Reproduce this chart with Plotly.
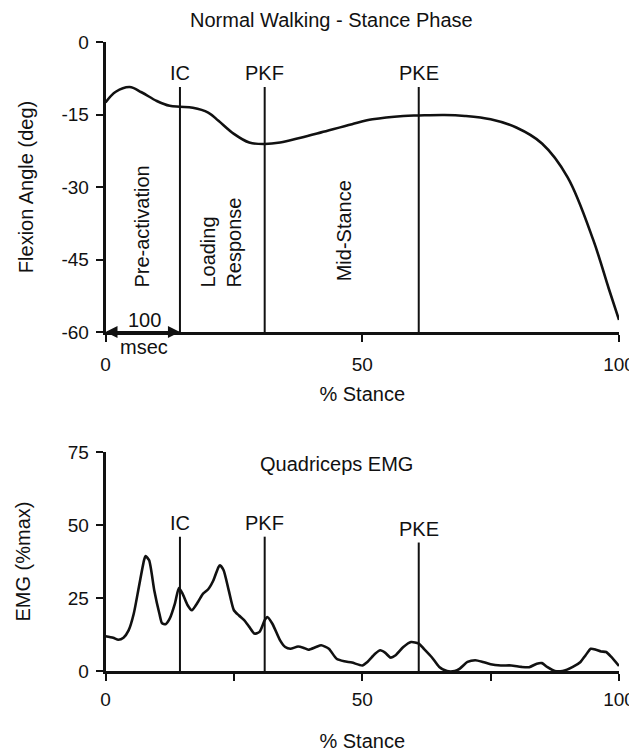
import plotly.graph_objects as go

# ---- data ----
stance_x = [0, 2, 4.7, 7, 10, 12.5, 14.5, 17, 20, 22, 25, 28, 31, 34, 38, 42, 48, 52, 58, 61,
            66, 70, 75, 80, 85, 90, 95, 98, 100]
flexion = [-12.5, -10.3, -9.3, -10.4, -12.2, -13.2, -13.4, -13.6, -14.6, -16.3, -19.0, -20.8,
           -21.1, -20.8, -19.8, -18.7, -17.0, -16.0, -15.3, -15.2, -15.1, -15.3, -16.0, -17.7,
           -21.0, -28.0, -41.0, -51.0, -57.5]

emg_x = [0, 1.5, 2.5, 3.5, 4.5, 5.5, 6.5, 7.5, 7.8, 8.5, 9.5, 10.5, 11, 11.7, 12.5, 13.5, 14.3,
         15, 16, 16.8, 18, 19, 20, 21, 22, 22.3, 23, 24, 25, 26, 27, 28, 29, 30, 31, 31.5, 32.5,
         34, 35, 36, 37.5, 38.5, 39.5, 41, 42, 43.5, 45, 46.5, 48, 50, 51, 52.5, 53.5, 54.5, 55.5,
         56.5, 58, 59.5, 61, 62, 63.5, 65, 66.5, 68, 69, 70.5, 72, 73.5, 75, 77, 79, 81, 82.5,
         84, 85, 86, 87.5, 89, 91, 92.5, 93.5, 94.5, 95.5, 96.5, 97.5, 98.5, 100]
emg = [11.9, 11.4, 10.7, 11.4, 13.9, 19.6, 28.8, 37.9, 39.4, 37.9, 27.6, 19.6, 16.4, 16.0, 17.9,
       23.0, 28.4, 26.5, 22.5, 20.8, 23.6, 26.5, 28.0, 31.0, 35.6, 36.2, 34.5, 27.6, 20.8, 19.0,
       17.4, 15.1, 12.8, 13.4, 17.4, 18.5, 16.2, 10.5, 8.2, 7.6, 8.4, 8.0, 7.3, 8.2, 8.8, 7.6,
       4.2, 3.3, 2.9, 1.9, 3.1, 5.9, 7.1, 6.2, 4.6, 5.4, 8.2, 9.9, 9.4, 7.6, 4.8, 1.4, 0.0, 0.0,
       0.8, 3.1, 3.7, 3.1, 2.3, 1.9, 1.9, 1.4, 1.3, 2.5, 2.7, 1.4, 0.0, 0.0, 1.4, 3.1, 5.4, 7.6,
       7.3, 6.7, 6.5, 4.8, 1.7]

event_names = ["IC", "PKF", "PKE"]
event_x = [14.5, 31, 61]
event_top_flex = [-9.3, -9.3, -9.3]
event_top_emg = [46, 46, 44]

flex_ticks = [0, -15, -30, -45, -60]
emg_ticks = [0, 25, 50, 75]
stance_ticks_top = [0, 50, 100]
stance_ticks_bottom = [0, 25, 50, 75, 100]
stance_tick_labels_bottom = ["0", "", "50", "", "100"]

phase_labels = ["Pre-activation", "Loading<br>Response", "Mid-Stance"]
phase_x = [7.2, 22.5, 46.6]
phase_y = [-38.1, -41.5, -39.0]

FONT = "Liberation Sans, Arial, sans-serif"
FS = 20
TFS = 19
INK = "#111111"

# the page body has an 8px margin, so the figure is 8px smaller and offset by 8px
OFF = 8
W, H = 637 - OFF, 752 - OFF
xd = [(105.5 - OFF) / W, (619 - OFF) / W]
top_d = [1 - (332 - OFF) / H, 1 - (42 - OFF) / H]
bot_d = [1 - (671 - OFF) / H, 1 - (452 - OFF) / H]

fig = go.Figure()

fig.add_trace(go.Scatter(x=stance_x, y=flexion, mode="lines", line=dict(color=INK, width=2.6, shape="spline"),
                         xaxis="x", yaxis="y", showlegend=False, hoverinfo="skip"))
fig.add_trace(go.Scatter(x=emg_x, y=emg, mode="lines", line=dict(color=INK, width=2.6, shape="spline", smoothing=0.6),
                         xaxis="x2", yaxis="y2", showlegend=False, hoverinfo="skip"))

for name, ex, t1, t2 in zip(event_names, event_x, event_top_flex, event_top_emg):
    fig.add_trace(go.Scatter(x=[ex, ex], y=[-60, t1], mode="lines", line=dict(color=INK, width=2),
                             xaxis="x", yaxis="y", showlegend=False, hoverinfo="skip"))
    fig.add_trace(go.Scatter(x=[ex, ex], y=[0, t2], mode="lines", line=dict(color=INK, width=2),
                             xaxis="x2", yaxis="y2", showlegend=False, hoverinfo="skip"))

annotations = []
tf = dict(family=FONT, size=FS, color=INK)
tkf = dict(family=FONT, size=TFS, color=INK)
for name, ex, t1, t2 in zip(event_names, event_x, event_top_flex, event_top_emg):
    annotations.append(dict(x=ex, y=t1, xref="x", yref="y", text=name, showarrow=False,
                            yanchor="bottom", yshift=1, font=tf))
    annotations.append(dict(x=ex, y=t2, xref="x2", yref="y2", text=name, showarrow=False,
                            yanchor="bottom", yshift=1, font=tf))

for txt, px, py in zip(phase_labels, phase_x, phase_y):
    annotations.append(dict(x=px, y=py, xref="x", yref="y", text=txt, showarrow=False,
                            textangle=-90, align="left", font=tf))

# double arrow: 100 msec pre-activation
annotations.append(dict(x=0, y=-60, ax=event_x[0], ay=-60, xref="x", yref="y", axref="x", ayref="y",
                        text="", showarrow=True, arrowhead=2, arrowsize=1.2, arrowwidth=2, arrowcolor=INK))
annotations.append(dict(x=event_x[0], y=-60, ax=0, ay=-60, xref="x", yref="y", axref="x", ayref="y",
                        text="", showarrow=True, arrowhead=2, arrowsize=1.2, arrowwidth=2, arrowcolor=INK))
annotations.append(dict(x=7.5, y=-57.6, xref="x", yref="y", text="100", showarrow=False, font=tf))
annotations.append(dict(x=7.5, y=-60, xref="x", yref="y", text="msec", showarrow=False, yshift=-15, font=tf))

annotations.append(dict(x=44, y=1, xref="x", yref="paper", text="Normal Walking - Stance Phase",
                        showarrow=False, yanchor="top", yshift=0, borderpad=0, font=tf))
annotations.append(dict(x=45, y=71, xref="x2", yref="y2", text="Quadriceps EMG", showarrow=False, font=tf))

axis_common = dict(showline=True, linecolor=INK, linewidth=2.5, ticks="outside", ticklen=7,
                   tickwidth=2, tickcolor=INK, showgrid=False, zeroline=False, automargin=False,
                   ticklabeloverflow="allow", tickfont=tkf, title_font=tf)

fig.update_layout(
    width=W, height=H, margin=dict(l=0, r=0, t=0, b=0),
    paper_bgcolor="white", plot_bgcolor="white",
    font=tf,
    xaxis=dict(domain=xd, range=[0, 100], tickvals=stance_ticks_top, anchor="y",
               ticklabelstandoff=6,
               title=dict(text="% Stance", standoff=14), **axis_common),
    yaxis=dict(domain=top_d, range=[-60, 0], tickvals=flex_ticks, ticktext=[str(v) for v in flex_ticks],
               anchor="x", ticklabelstandoff=3,
               title=dict(text="Flexion Angle (deg)", standoff=23), **axis_common),
    xaxis2=dict(domain=xd, range=[0, 100], tickvals=stance_ticks_bottom, ticktext=stance_tick_labels_bottom,
                anchor="y2", ticklabelstandoff=2,
                title=dict(text="% Stance", standoff=30), **axis_common),
    yaxis2=dict(domain=bot_d, range=[0, 75], tickvals=emg_ticks, ticktext=[str(v) for v in emg_ticks],
                anchor="x2", ticklabelstandoff=3,
                title=dict(text="EMG (%max)", standoff=32), **axis_common),
    annotations=annotations,
)

fig.write_html("out.html")
